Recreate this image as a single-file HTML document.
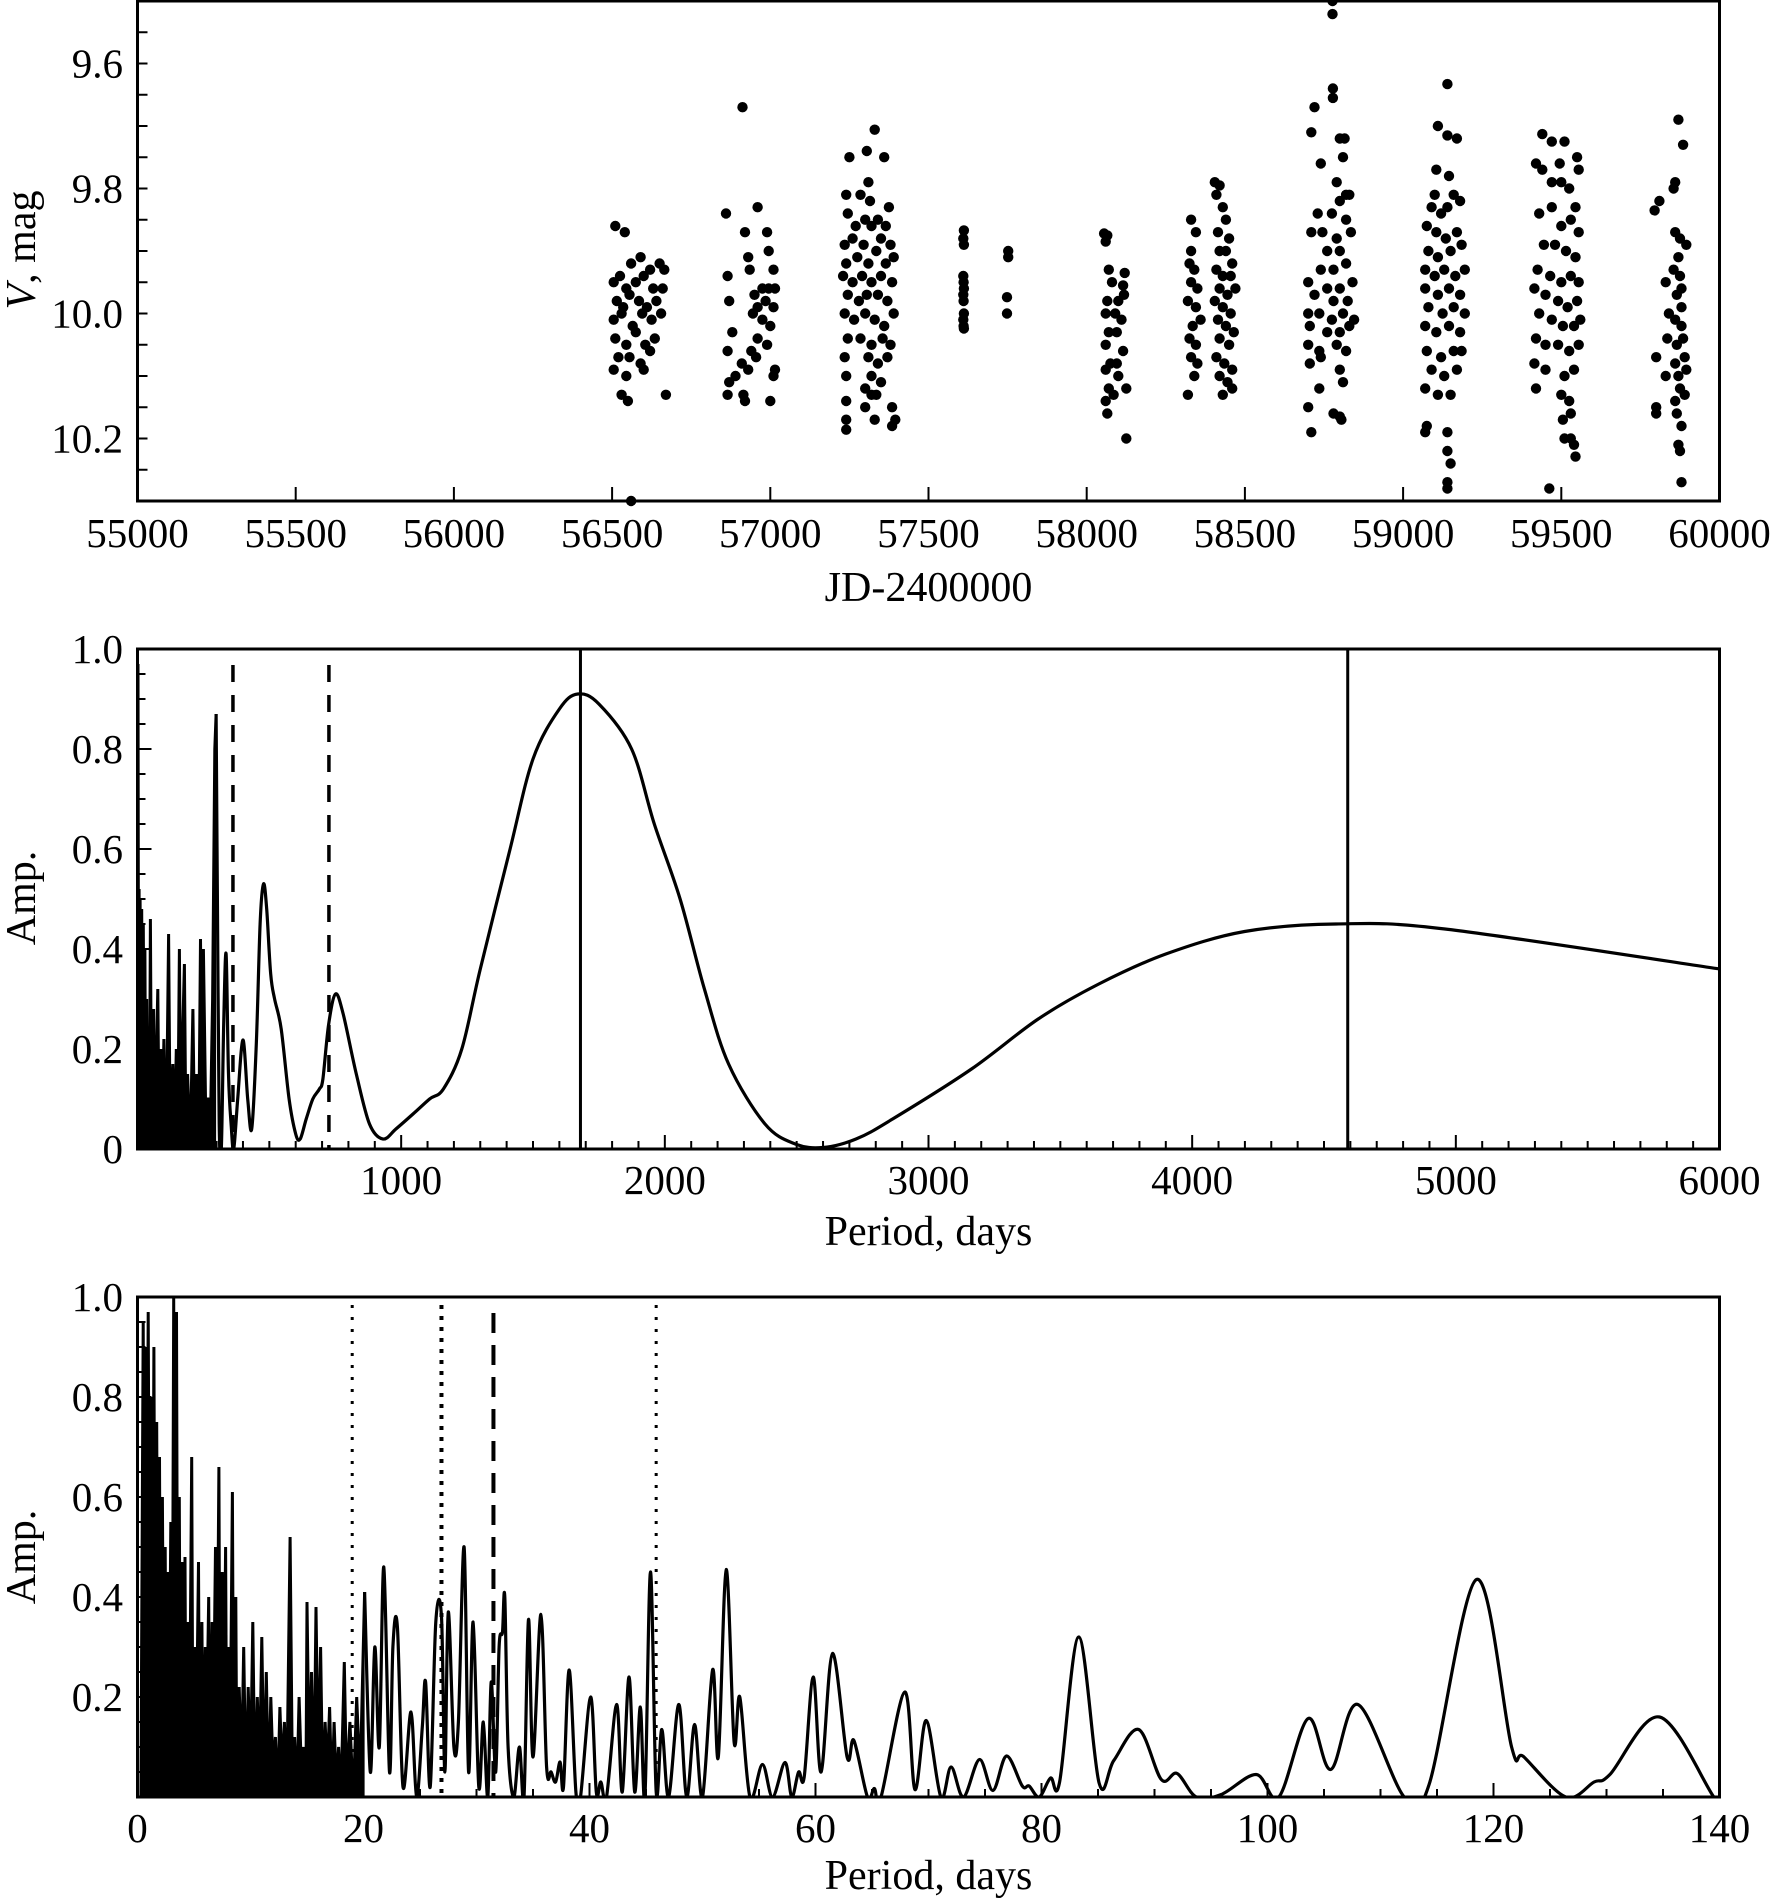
<!DOCTYPE html>
<html><head><meta charset="utf-8"><style>
html,body{margin:0;padding:0;background:#fff;}
svg{display:block;font-family:"Liberation Serif",serif;}
</style></head><body>
<svg id="fig" width="1772" height="1904" viewBox="0 0 1772 1904" xmlns="http://www.w3.org/2000/svg"></svg>
<script>
// ---------- Panel 1: light curve data ([JD, V]) ----------
const seasonA=[[56510,9.86],[56540,9.87],[56560,9.92],[56590,9.91],[56620,9.93],[56650,9.92],[56665,9.93],[56505,9.95],[56525,9.94],[56545,9.96],[56575,9.95],[56600,9.94],[56630,9.96],[56660,9.96],[56515,9.98],[56535,9.99],[56555,9.97],[56585,9.98],[56610,9.99],[56640,9.98],[56505,10.01],[56530,10.0],[56565,10.02],[56595,10.0],[56625,10.01],[56655,10.0],[56510,10.04],[56545,10.05],[56575,10.03],[56605,10.05],[56635,10.04],[56520,10.07],[56555,10.07],[56590,10.08],[56620,10.06],[56505,10.09],[56545,10.1],[56600,10.09],[56530,10.13],[56550,10.14],[56670,10.13],[56560,10.3]];
const seasonB=[[56860,9.84],[56960,9.83],[56912,9.67],[56920,9.87],[56990,9.87],[56865,9.94],[56930,9.91],[56995,9.9],[57010,9.93],[56935,9.93],[56950,9.97],[56975,9.96],[56995,9.96],[57015,9.96],[56870,9.98],[56960,9.99],[56985,9.98],[57010,9.99],[56945,10.0],[56975,10.01],[57000,10.02],[56880,10.03],[56960,10.04],[56990,10.05],[56865,10.06],[56940,10.06],[56955,10.07],[56910,10.08],[56930,10.09],[56870,10.11],[56890,10.1],[57015,10.09],[57010,10.1],[56865,10.13],[56920,10.14],[56915,10.13],[57000,10.14]];
const seasonC=[[57330,9.706],[57250,9.75],[57360,9.75],[57305,9.74],[57310,9.79],[57240,9.81],[57285,9.81],[57315,9.82],[57375,9.83],[57245,9.84],[57300,9.85],[57340,9.85],[57270,9.86],[57320,9.86],[57365,9.86],[57235,9.89],[57260,9.88],[57295,9.89],[57350,9.88],[57380,9.89],[57240,9.92],[57275,9.91],[57310,9.92],[57335,9.9],[57365,9.92],[57390,9.91],[57230,9.94],[57260,9.95],[57290,9.94],[57320,9.95],[57350,9.94],[57385,9.95],[57245,9.97],[57280,9.98],[57305,9.97],[57340,9.97],[57370,9.98],[57235,10.0],[57265,10.01],[57300,10.0],[57330,10.01],[57360,10.02],[57390,10.0],[57245,10.04],[57285,10.04],[57320,10.05],[57355,10.04],[57380,10.05],[57235,10.07],[57310,10.07],[57340,10.08],[57370,10.07],[57240,10.1],[57320,10.1],[57350,10.11],[57300,10.12],[57335,10.13],[57240,10.14],[57300,10.15],[57320,10.13],[57385,10.15],[57395,10.17],[57240,10.17],[57330,10.17],[57385,10.18],[57240,10.186]];
const seasonD=[[57612,9.867],[57610,9.88],[57612,9.89],[57610,9.94],[57611,9.95],[57612,9.96],[57610,9.97],[57611,9.98],[57612,10.0],[57610,10.01],[57611,10.02],[57612,10.024]];
const seasonE=[[57752,9.9],[57752,9.91],[57748,9.974],[57748,10.0]];
const seasonF=[[58055,9.872],[58065,9.875],[58060,9.885],[58070,9.93],[58120,9.935],[58080,9.95],[58115,9.955],[58065,9.98],[58100,9.98],[58118,9.97],[58060,10.0],[58090,10.0],[58110,10.01],[58070,10.03],[58095,10.03],[58060,10.05],[58115,10.06],[58075,10.08],[58095,10.08],[58060,10.09],[58100,10.1],[58125,10.12],[58070,10.12],[58085,10.13],[58060,10.14],[58065,10.16],[58125,10.2]];
const seasonG=[[58330,9.85],[58345,9.87],[58330,9.9],[58325,9.92],[58340,9.93],[58330,9.95],[58350,9.96],[58320,9.98],[58345,9.99],[58360,10.01],[58335,10.02],[58325,10.04],[58345,10.05],[58330,10.07],[58350,10.08],[58340,10.1],[58320,10.13],[58405,9.79],[58420,9.795],[58410,9.81],[58430,9.83],[58440,9.85],[58415,9.87],[58450,9.88],[58420,9.9],[58440,9.9],[58460,9.92],[58410,9.93],[58430,9.94],[58455,9.94],[58420,9.96],[58445,9.97],[58470,9.96],[58405,9.98],[58430,9.99],[58455,10.0],[58415,10.01],[58440,10.02],[58465,10.03],[58420,10.04],[58450,10.05],[58410,10.07],[58435,10.08],[58460,10.09],[58420,10.1],[58445,10.11],[58460,10.12],[58430,10.13]];
const seasonH=[[58777,9.5],[58777,9.521],[58778,9.64],[58778,9.655],[58720,9.67],[58710,9.71],[58800,9.72],[58815,9.72],[58740,9.76],[58810,9.75],[58790,9.79],[58820,9.81],[58800,9.82],[58830,9.81],[58730,9.84],[58775,9.84],[58820,9.85],[58710,9.87],[58745,9.87],[58790,9.88],[58835,9.87],[58760,9.9],[58800,9.9],[58740,9.93],[58780,9.93],[58820,9.92],[58700,9.95],[58760,9.96],[58800,9.96],[58840,9.95],[58720,9.97],[58780,9.98],[58825,9.98],[58700,10.0],[58735,10.0],[58775,10.01],[58810,10.0],[58845,10.01],[58705,10.02],[58760,10.03],[58800,10.03],[58830,10.02],[58700,10.05],[58735,10.06],[58790,10.05],[58820,10.06],[58705,10.08],[58740,10.07],[58800,10.09],[58735,10.12],[58810,10.11],[58700,10.15],[58780,10.16],[58805,10.17],[58800,10.165],[58710,10.19]];
const seasonI=[[59140,9.633],[59110,9.7],[59140,9.715],[59170,9.72],[59105,9.77],[59145,9.78],[59100,9.81],[59160,9.81],[59090,9.83],[59120,9.84],[59140,9.83],[59180,9.82],[59075,9.86],[59105,9.87],[59135,9.88],[59170,9.87],[59080,9.9],[59110,9.91],[59150,9.9],[59185,9.89],[59070,9.93],[59100,9.94],[59130,9.93],[59165,9.94],[59195,9.93],[59070,9.96],[59110,9.97],[59145,9.96],[59180,9.97],[59080,9.99],[59125,10.0],[59160,9.99],[59195,10.0],[59070,10.02],[59105,10.03],[59145,10.02],[59180,10.03],[59075,10.06],[59120,10.07],[59160,10.06],[59185,10.06],[59090,10.09],[59130,10.1],[59170,10.09],[59070,10.12],[59110,10.13],[59150,10.13],[59075,10.18],[59070,10.19],[59140,10.19],[59140,10.22],[59150,10.24],[59140,10.27],[59140,10.28]];
const seasonJ=[[59440,9.713],[59470,9.725],[59510,9.725],[59420,9.76],[59440,9.77],[59495,9.76],[59550,9.75],[59555,9.77],[59470,9.79],[59500,9.79],[59525,9.8],[59545,9.83],[59430,9.84],[59470,9.83],[59500,9.86],[59530,9.85],[59555,9.87],[59445,9.89],[59480,9.89],[59515,9.9],[59545,9.91],[59425,9.93],[59465,9.94],[59500,9.95],[59530,9.94],[59555,9.95],[59415,9.96],[59450,9.97],[59490,9.98],[59520,9.99],[59550,9.98],[59430,10.0],[59470,10.01],[59505,10.02],[59540,10.02],[59560,10.01],[59420,10.04],[59450,10.05],[59490,10.05],[59525,10.06],[59555,10.05],[59415,10.08],[59450,10.09],[59510,10.1],[59540,10.09],[59420,10.12],[59500,10.13],[59525,10.14],[59505,10.17],[59530,10.16],[59510,10.2],[59540,10.21],[59545,10.229],[59530,10.2],[59462,10.28]];
const seasonK=[[59870,9.69],[59885,9.73],[59860,9.79],[59855,9.8],[59795,9.835],[59810,9.82],[59875,9.88],[59860,9.87],[59895,9.89],[59870,9.91],[59855,9.93],[59875,9.94],[59880,9.96],[59830,9.95],[59865,9.97],[59880,9.99],[59840,10.0],[59860,10.01],[59880,10.02],[59835,10.04],[59865,10.05],[59885,10.04],[59800,10.07],[59860,10.08],[59890,10.07],[59870,10.1],[59895,10.09],[59830,10.1],[59875,10.12],[59890,10.13],[59860,10.14],[59800,10.15],[59800,10.16],[59865,10.16],[59880,10.18],[59870,10.21],[59875,10.22],[59880,10.27]];
const p1XTicks=[55000,55500,56000,56500,57000,57500,58000,58500,59000,59500,60000];
const p1YTicks=["9.6","9.8","10.0","10.2"];

// ---------- Panel 2: long-period periodogram ----------
const p2Period=[0,2,4,6,8,10,13,16,19,22,25,28,31,35,38,42,45,49,53,57,61,65,70,77,82,88,94,100,106,112,118,124,129,134,140,147,153,159,164,170,178,184,190,196,203,210,217,224,232,239,245,250,258,267,275,285,293,298,303,310,318,327,336,345,355,365,380,400,418,433,450,465,478,490,505,520,545,575,600,617,640,665,690,703,725,751,780,830,880,931,980,1045,1108,1160,1230,1300,1413,1500,1600,1670,1750,1874,1960,2058,2150,2242,2380,2495,2600,2725,2864,3163,3416,3646,3900,4199,4545,4959,6000];
const p2Amp=[0.5,0.97,0.1,0.52,0.05,0.5,0.1,0.48,0.05,0.45,0.1,0.4,0.0,0.3,0.1,0.2,0.0,0.46,0.05,0.2,0.28,0.02,0.15,0.32,0.03,0.2,0.05,0.22,0.0,0.15,0.43,0.02,0.1,0.17,0.0,0.2,0.03,0.4,0.05,0.2,0.37,0.0,0.15,0.05,0.08,0.28,0.0,0.15,0.0,0.42,0.1,0.4,0.1,0.1,0.0,0.3,0.8,0.87,0.5,0.05,0.0,0.25,0.39,0.15,0.05,0.0,0.1,0.218,0.1,0.04,0.2,0.45,0.53,0.48,0.35,0.3,0.24,0.1,0.03,0.02,0.06,0.1,0.12,0.14,0.25,0.31,0.27,0.15,0.05,0.02,0.04,0.07,0.1,0.12,0.2,0.36,0.6,0.78,0.88,0.91,0.89,0.8,0.65,0.5,0.32,0.17,0.05,0.01,0.003,0.02,0.06,0.16,0.26,0.33,0.39,0.435,0.45,0.44,0.36];
const p2Dashed=[362,726];
const p2Solid=[1680,4590];
const p2XTicks=[1000,2000,3000,4000,5000,6000];
const p2YTicks=["0","0.2","0.4","0.6","0.8","1.0"];

// ---------- Panel 3: short-period periodogram ----------
const p3Period=[0.1,0.3,0.5,0.6,0.7,0.8,0.95,1.05,1.2,1.3,1.45,1.55,1.7,1.8,1.95,2.05,2.2,2.3,2.45,2.55,2.7,2.8,2.95,3.05,3.2,3.3,3.45,3.55,3.7,3.8,3.95,4.05,4.2,4.3,4.5,4.6,4.8,4.9,5.1,5.2,5.4,5.5,5.7,5.8,6.0,6.1,6.3,6.4,6.6,6.7,6.9,7.0,7.2,7.3,7.5,7.6,7.8,7.9,8.1,8.2,8.4,8.5,8.7,8.8,9.0,9.2,9.4,9.6,9.8,10.0,10.2,10.4,10.6,10.8,11.0,11.2,11.4,11.6,11.8,12.0,12.2,12.4,12.6,12.8,13.0,13.2,13.5,13.7,13.9,14.1,14.3,14.5,14.7,14.9,15.0,15.2,15.4,15.6,15.8,16.0,16.2,16.4,16.6,16.8,17.0,17.2,17.4,17.6,17.8,18.0,18.3,18.5,18.8,19.1,19.4,19.7,20.1,20.6,21.0,21.4,21.8,22.3,22.6,23.0,23.5,24.2,24.7,25.2,25.5,25.9,26.4,26.9,27.2,27.5,28.0,28.4,28.9,29.3,29.7,30.2,30.6,31.0,31.3,31.7,32.0,32.3,32.5,32.8,33.3,33.8,34.2,34.6,35.0,35.7,36.2,36.6,37.0,37.4,37.7,38.2,38.8,39.2,40.1,40.6,41.0,41.5,42.4,42.9,43.5,44.0,44.5,44.9,45.4,45.9,46.4,47.0,47.9,48.6,49.3,50.0,50.9,51.4,52.1,52.8,53.3,54.2,55.3,56.2,57.3,57.9,58.5,59.0,59.8,60.5,61.5,62.8,63.4,64.6,65.2,65.8,67.9,68.8,69.8,71.1,72.0,73.1,74.5,75.7,76.9,78.3,78.9,79.8,80.8,81.6,83.3,85.1,86.4,88.6,90.6,92.0,93.7,95.9,99.0,101.0,103.6,105.6,108.0,112.1,114.3,118.5,121.6,122.7,126.4,128.9,130.3,134.7,139.5,140];
const p3Amp=[0.0,0.0,0.95,0.3,0.9,0.2,0.97,0.4,0.8,0.1,0.9,0.3,0.75,0.2,0.68,0.1,0.6,0.2,0.5,0.05,0.45,0.1,0.55,0.0,1.0,0.3,0.97,0.2,0.6,0.05,0.47,0.1,0.48,0.0,0.35,0.1,0.68,0.05,0.3,0.1,0.47,0.0,0.35,0.05,0.3,0.1,0.4,0.02,0.35,0.1,0.5,0.05,0.66,0.1,0.45,0.05,0.5,0.0,0.3,0.1,0.61,0.05,0.4,0.0,0.22,0.05,0.3,0.0,0.22,0.05,0.35,0.0,0.2,0.05,0.32,0.02,0.25,0.0,0.2,0.05,0.12,0.0,0.18,0.05,0.15,0.0,0.52,0.05,0.12,0.0,0.2,0.05,0.1,0.0,0.39,0.05,0.25,0.0,0.38,0.05,0.3,0.0,0.15,0.05,0.18,0.0,0.15,0.02,0.1,0.0,0.27,0.02,0.15,0.0,0.2,0.03,0.41,0.05,0.3,0.1,0.46,0.05,0.3,0.34,0.02,0.17,0.0,0.14,0.23,0.02,0.35,0.36,0.05,0.37,0.1,0.15,0.5,0.05,0.35,0.02,0.15,0.0,0.23,0.05,0.3,0.33,0.4,0.1,0.0,0.1,0.0,0.355,0.08,0.365,0.06,0.05,0.03,0.07,0.02,0.254,0.01,0.0,0.2,0.01,0.03,0.0,0.185,0.01,0.24,0.01,0.18,0.0,0.45,0.01,0.135,0.0,0.185,0.0,0.145,0.0,0.255,0.08,0.455,0.11,0.2,0.0,0.065,0.0,0.069,0.0,0.05,0.04,0.24,0.05,0.287,0.08,0.113,0.0,0.017,0.0,0.21,0.015,0.153,0.0,0.06,0.0,0.075,0.013,0.082,0.022,0.022,0.0,0.038,0.03,0.32,0.028,0.073,0.135,0.035,0.047,0.0,0.005,0.045,0.0,0.157,0.055,0.185,0.0,0.025,0.435,0.1,0.08,0.0,0.03,0.045,0.16,0.0,0.0];
const p3Dotted=[19.0,26.9,45.9];
const p3Dashed=[31.5];
const p3XTicks=[0,20,40,60,80,100,120,140];
const p3YTicks=["0.2","0.4","0.6","0.8","1.0"];

const NS="http://www.w3.org/2000/svg";
const svg=document.getElementById('fig');
function mk(tag,attrs,parent){const e=document.createElementNS(NS,tag);for(const k in attrs)e.setAttribute(k,attrs[k]);(parent||svg).appendChild(e);return e;}
function txt(s,x,y,anchor,size,parent){const t=mk('text',{x:x,y:y,'text-anchor':anchor,'dominant-baseline':'central','font-size':size},parent);t.textContent=s;return t;}
function smoothPath(pts){let d='M'+pts[0][0].toFixed(1)+','+pts[0][1].toFixed(1);
 for(let i=0;i<pts.length-1;i++){const p0=pts[Math.max(0,i-1)],p1=pts[i],p2=pts[i+1],p3=pts[Math.min(pts.length-1,i+2)];
 const c1=[p1[0]+(p2[0]-p0[0])/6,p1[1]+(p2[1]-p0[1])/6],c2=[p2[0]-(p3[0]-p1[0])/6,p2[1]-(p3[1]-p1[1])/6];
 d+=' C'+c1[0].toFixed(1)+','+c1[1].toFixed(1)+' '+c2[0].toFixed(1)+','+c2[1].toFixed(1)+' '+p2[0].toFixed(1)+','+p2[1].toFixed(1);}return d;}

const L=137.5,R=1719.5;
// ===== Panel 1 =====
(function(){
 const T=1,B=501,x0=55000,x1=60000,y0=9.5,y1=10.3;
 const sx=v=>L+(v-x0)/(x1-x0)*(R-L), sy=v=>T+(v-y0)/(y1-y0)*(B-T);
 const g=mk('g',{});
 
 
 const pts=mk('g',{fill:'#000'},g);
 
 
 [seasonA,seasonB,seasonC,seasonD,seasonE,seasonF,seasonG,seasonH,seasonI,seasonJ,seasonK].forEach(s=>s.forEach(p=>{
  const c=mk('circle',{cx:sx(p[0]).toFixed(1),cy:sy(p[1]).toFixed(1),r:5.2},pts);
  
  
 }));
 const fr=mk('rect',{x:L,y:T,width:R-L,height:B-T,fill:'none',stroke:'#000','stroke-width':3},g);
 
 
 for(let v=9.55;v<10.3;v+=0.05){mk('line',{x1:L,x2:L+10,y1:sy(v),y2:sy(v),stroke:'#000','stroke-width':2},g);}
 p1YTicks.forEach(s=>{const t=txt(s,123,sy(parseFloat(s)),'end',41,g);});
 p1XTicks.forEach(v=>{mk('line',{x1:sx(v),x2:sx(v),y1:B,y2:B-14,stroke:'#000','stroke-width':2},g);
  const t=txt(String(v),sx(v),533,'middle',41,g);});
 const xl=txt('JD-2400000',(L+R)/2,588,'middle',42,g);
 
 
 const yl=mk('text',{x:0,y:0,'text-anchor':'middle','dominant-baseline':'central','font-size':42,transform:'translate(22,250) rotate(-90)'},g);
 yl.innerHTML='<tspan font-style="italic">V</tspan>, mag';
 
 
})();

// ===== Panel 2 =====
(function(){
 const T=649,B=1149,x0=0,x1=6000;
 const sx=v=>L+(v-x0)/(x1-x0)*(R-L), sy=v=>B-v*(B-T);
 const g=mk('g',{});
 
 
 const cp=mk('clipPath',{id:'c2'},g);mk('rect',{x:L,y:T,width:R-L,height:B-T},cp);
 const pts=p2Period.map((p,i)=>[sx(p),sy(p2Amp[i])]);
 const forest=pts.filter((p,i)=>p2Period[i]<=300), smooth=pts.filter((p,i)=>p2Period[i]>=298);
 let d='M'+forest.map(p=>p[0].toFixed(1)+','+p[1].toFixed(1)).join(' L');
 const fillF=mk('path',{d:d+' L'+forest[forest.length-1][0].toFixed(1)+','+B+' L'+forest[0][0].toFixed(1)+','+B+' Z',fill:'#000',stroke:'none','clip-path':'url(#c2)'},g);
 
 
 const l1=mk('path',{d:d,fill:'none',stroke:'#000','stroke-width':3,'clip-path':'url(#c2)'},g);
 
 
 const l2=mk('path',{d:smoothPath(smooth),fill:'none',stroke:'#000','stroke-width':3.2,'clip-path':'url(#c2)'},g);
 
 
 p2Dashed.forEach(v=>{const e=mk('line',{x1:sx(v),x2:sx(v),y1:T+16,y2:B,stroke:'#000','stroke-width':3.5,'stroke-dasharray':'17,13'},g);});
 p2Solid.forEach(v=>{const e=mk('line',{x1:sx(v),x2:sx(v),y1:T,y2:B,stroke:'#000','stroke-width':3},g);});
 const fr=mk('rect',{x:L,y:T,width:R-L,height:B-T,fill:'none',stroke:'#000','stroke-width':3},g);
 
 
 for(let k=1;k<20;k++){const v=k*0.05;const maj=k%4===0;mk('line',{x1:L,x2:L+(maj?14:8),y1:sy(v),y2:sy(v),stroke:'#000','stroke-width':2},g);}
 for(let v=100;v<6000;v+=100){const maj=v%1000===0;mk('line',{x1:sx(v),x2:sx(v),y1:B,y2:B-(maj?14:8),stroke:'#000','stroke-width':2},g);}
 p2YTicks.forEach(s=>{const t=txt(s,123,sy(parseFloat(s)),'end',41,g);});
 p2XTicks.forEach(v=>{const t=txt(String(v),sx(v),1180,'middle',41,g);});
 const xl=txt('Period, days',(L+R)/2,1232,'middle',42,g);
 
 
 const yl=mk('text',{x:0,y:0,'text-anchor':'middle','dominant-baseline':'central','font-size':42,transform:'translate(22,898) rotate(-90)'},g);
 yl.textContent='Amp.';
 
 
})();

// ===== Panel 3 =====
(function(){
 const T=1297,B=1797,x0=0,x1=140;
 const sx=v=>L+(v-x0)/(x1-x0)*(R-L), sy=v=>B-v*(B-T);
 const g=mk('g',{});
 
 
 const cp=mk('clipPath',{id:'c3'},g);mk('rect',{x:L,y:T,width:R-L,height:B-T},cp);
 const pts=p3Period.map((p,i)=>[sx(p),sy(p3Amp[i])]);
 const forest=pts.filter((p,i)=>p3Period[i]<=20.2), rest=pts.filter((p,i)=>p3Period[i]>=20.1);
 const fd='M'+forest.map(p=>p[0].toFixed(1)+','+p[1].toFixed(1)).join(' L');
 const fillF=mk('path',{d:fd+' L'+forest[forest.length-1][0].toFixed(1)+','+B+' L'+forest[0][0].toFixed(1)+','+B+' Z',fill:'#000',stroke:'none','clip-path':'url(#c3)'},g);
 
 
 const l1=mk('path',{d:fd,fill:'none',stroke:'#000','stroke-width':3,'clip-path':'url(#c3)'},g);
 
 
 const l2=mk('path',{d:smoothPath(rest),fill:'none',stroke:'#000','stroke-width':3.2,'clip-path':'url(#c3)'},g);
 
 
 p3Dotted.forEach((v,i)=>{const e=mk('line',{x1:sx(v),x2:sx(v),y1:T+8,y2:B,stroke:'#000','stroke-width':i===1?4:3,'stroke-dasharray':i===1?'4,7':'3,9'},g);});
 p3Dashed.forEach(v=>{const e=mk('line',{x1:sx(v),x2:sx(v),y1:T+16,y2:B,stroke:'#000','stroke-width':4,'stroke-dasharray':'20,12'},g);});
 const fr=mk('rect',{x:L,y:T,width:R-L,height:B-T,fill:'none',stroke:'#000','stroke-width':3},g);
 
 
 for(let k=1;k<20;k++){const v=k*0.05;const maj=k%4===0;mk('line',{x1:L,x2:L+(maj?14:8),y1:sy(v),y2:sy(v),stroke:'#000','stroke-width':2},g);}
 for(let v=5;v<140;v+=5){const maj=v%20===0;mk('line',{x1:sx(v),x2:sx(v),y1:B,y2:B-(maj?14:8),stroke:'#000','stroke-width':2},g);}
 p3YTicks.forEach(s=>{const t=txt(s,123,sy(parseFloat(s)),'end',41,g);});
 p3XTicks.forEach(v=>{const t=txt(String(v),sx(v),1828,'middle',41,g);});
 const xl=txt('Period, days',(L+R)/2,1876,'middle',42,g);
 
 
 const yl=mk('text',{x:0,y:0,'text-anchor':'middle','dominant-baseline':'central','font-size':42,transform:'translate(22,1557) rotate(-90)'},g);
 yl.textContent='Amp.';
 
 
})();
</script>
</body></html>
